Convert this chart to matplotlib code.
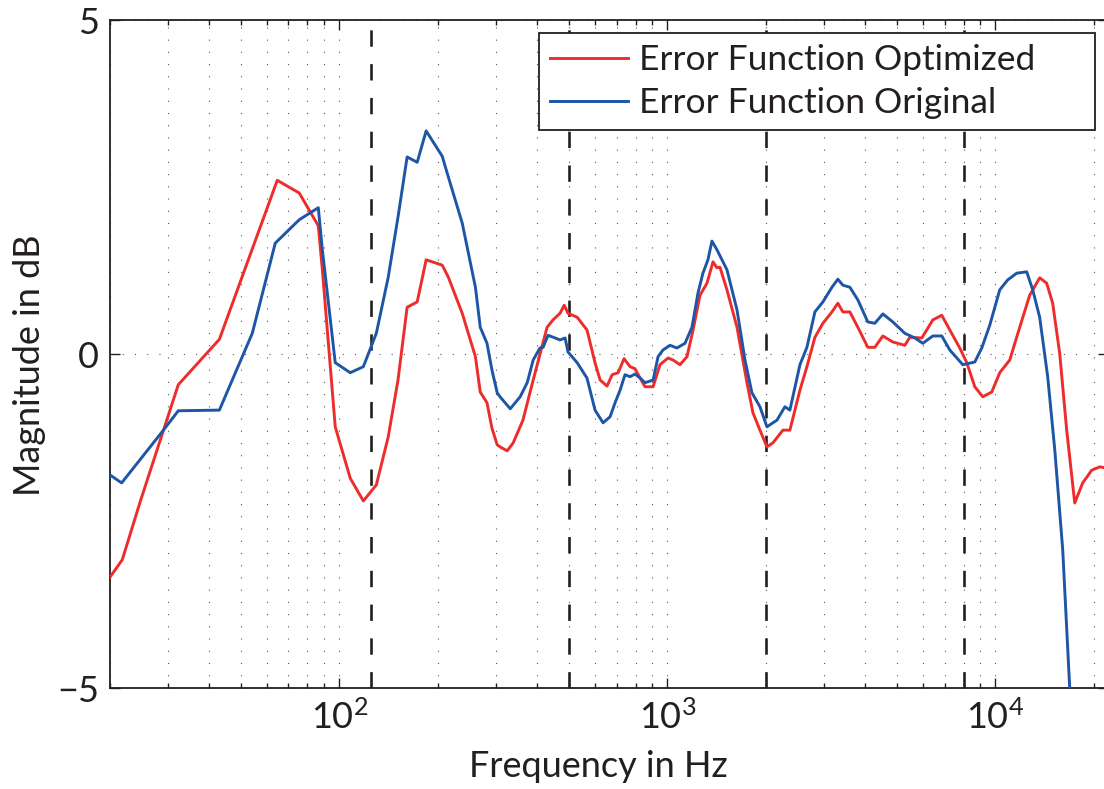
import numpy as np
import matplotlib
matplotlib.use("Agg")
import matplotlib.pyplot as plt
from matplotlib.ticker import LogLocator, NullFormatter, FixedLocator

# frequency (Hz) / magnitude (dB)
freq_opt = [20, 21.8, 24.8, 32.3, 43.1, 64.7, 75.5, 86.3, 88.8, 97.2, 108, 118.4,
            129.7, 141, 151, 161, 172.8, 184, 206, 215, 237, 260, 269, 282, 292,
            303, 309, 325, 339, 363, 390, 430, 448, 471, 485, 498, 531, 569, 602,
            624, 655, 679, 708, 738, 770, 797, 826, 855, 905, 950, 1005, 1041,
            1093, 1148, 1198, 1258, 1321, 1378, 1417, 1447, 1520, 1631, 1749,
            1824, 1916, 2012, 2099, 2251, 2364, 2537, 2664, 2818, 2981, 3176,
            3311, 3429, 3601, 3809, 4085, 4291, 4539, 4869, 5297, 5487, 5968,
            6447, 6866, 7263, 7789, 8183, 8655, 9155, 9750, 10313, 11064, 11866,
            12727, 13650, 14339, 14954, 15709, 16501, 17457, 18462, 19664, 20797,
            22050]
mag_opt = [-3.34, -3.08, -2.19, -0.46, 0.22, 2.60, 2.41, 1.92, 1.26, -1.09, -1.86,
           -2.20, -1.96, -1.24, -0.39, 0.70, 0.78, 1.41, 1.33, 1.15, 0.61, -0.04,
           -0.57, -0.73, -1.11, -1.36, -1.39, -1.45, -1.33, -0.99, -0.39, 0.40,
           0.51, 0.61, 0.73, 0.61, 0.55, 0.36, -0.13, -0.39, -0.48, -0.31, -0.28,
           -0.07, -0.19, -0.22, -0.36, -0.49, -0.49, -0.16, -0.06, -0.09, -0.16,
           -0.04, 0.36, 0.88, 1.06, 1.38, 1.29, 1.30, 0.96, 0.40, -0.43, -0.88,
           -1.14, -1.39, -1.33, -1.14, -1.14, -0.54, -0.19, 0.25, 0.46, 0.63, 0.76,
           0.63, 0.63, 0.40, 0.10, 0.10, 0.27, 0.18, 0.13, 0.25, 0.24, 0.51, 0.58,
           0.36, 0.09, -0.13, -0.49, -0.64, -0.57, -0.28, -0.09, 0.40, 0.88, 1.14,
           1.06, 0.76, 0.01, -1.14, -2.23, -1.93, -1.74, -1.69, -1.71]

freq_orig = [20, 21.7, 29.1, 32.3, 43.1, 54.3, 63.8, 75.5, 86.3, 88.8, 97.2, 108,
             118.4, 129.7, 141, 151, 161, 172.8, 184, 206, 215, 237, 260, 269, 282,
             292, 303, 309, 332, 356, 374, 390, 409, 418, 433, 455, 471, 488, 498,
             531, 569, 602, 637, 669, 693, 718, 743, 770, 797, 826, 855, 905, 937,
             970, 1019, 1070, 1132, 1189, 1240, 1284, 1330, 1368, 1417, 1520, 1631,
             1725, 1811, 1916, 2012, 2159, 2283, 2364, 2537, 2664, 2818, 2981, 3176,
             3311, 3429, 3601, 3809, 4085, 4291, 4539, 4869, 5297, 5683, 6010, 6447,
             6866, 7263, 7956, 8655, 9091, 9614, 10313, 10910, 11621, 12464, 13000,
             13650, 14440, 15180, 16046, 16853, 17700]
mag_orig = [-1.81, -1.93, -1.14, -0.85, -0.84, 0.31, 1.66, 2.01, 2.19, 1.56, -0.13,
            -0.28, -0.19, 0.31, 1.15, 2.05, 2.95, 2.87, 3.34, 2.96, 2.65, 1.96, 1.00,
            0.40, 0.16, -0.24, -0.58, -0.64, -0.82, -0.64, -0.43, -0.09, 0.09, 0.10,
            0.28, 0.24, 0.21, 0.24, 0.03, -0.13, -0.36, -0.84, -1.03, -0.94, -0.73,
            -0.54, -0.31, -0.34, -0.30, -0.36, -0.43, -0.39, -0.04, 0.06, 0.13, 0.09,
            0.16, 0.40, 0.91, 1.21, 1.41, 1.69, 1.56, 1.26, 0.66, -0.09, -0.58, -0.79,
            -1.09, -0.99, -0.79, -0.84, -0.16, 0.10, 0.63, 0.78, 1.00, 1.12, 1.03,
            1.00, 0.81, 0.48, 0.46, 0.60, 0.48, 0.31, 0.24, 0.16, 0.27, 0.27, 0.06,
            -0.16, -0.12, 0.09, 0.43, 0.96, 1.11, 1.21, 1.23, 0.96, 0.55, -0.34,
            -1.44, -2.93, -5.0, -6.6]

band_edges = [125, 500, 2000, 8000]
labels = ["Error Function Optimized", "Error Function Original"]

plt.rcParams['font.family'] = ['Lato', 'DejaVu Sans']
plt.rcParams['mathtext.fontset'] = 'custom'
plt.rcParams['mathtext.rm'] = 'Lato'
plt.rcParams['font.size'] = 26
plt.rcParams['text.color'] = '#231f20'
plt.rcParams['axes.labelcolor'] = '#231f20'
plt.rcParams['xtick.color'] = '#231f20'
plt.rcParams['ytick.color'] = '#231f20'

fig = plt.figure(figsize=(11.04, 7.89), dpi=100)
ax = fig.add_axes([110 / 1104, 1 - 688 / 789, 998 / 1104, 668 / 789])

ax.plot(freq_opt, mag_opt, color='#ee2c2c', lw=2.1, label=labels[0], zorder=3)
ax.plot(freq_orig, mag_orig, color='#1d56a6', lw=2.1, label=labels[1], zorder=3)

for f in band_edges:
    ax.axvline(f, color='#231f20', lw=1.9, dashes=(6.2, 6.6), zorder=2)

ax.set_xscale('log')
ax.set_xlim(20, 22050)
ax.set_ylim(-5, 5)
ax.set_yticks([-5, 0, 5])
ax.xaxis.set_major_locator(FixedLocator([100, 1000, 10000]))
ax.xaxis.set_minor_locator(LogLocator(base=10, subs=np.arange(2, 10), numticks=20))
ax.xaxis.set_minor_formatter(NullFormatter())

ax.grid(True, which='both', axis='x', color='#555555', lw=0.8, linestyle=(0, (1, 10)))
ax.grid(True, which='major', axis='y', color='#555555', lw=0.8, linestyle=(0, (1, 10)))

ax.tick_params(which='both', direction='in', top=True, right=True, width=1.0)
ax.tick_params(which='major', length=7, pad=8)
ax.tick_params(which='minor', length=3.5)
for s in ax.spines.values():
    s.set_linewidth(1.3)
    s.set_color('#231f20')

ax.set_xlabel('Frequency in Hz')
ax.set_ylabel('Magnitude in dB')
ax.xaxis.set_label_coords((598 - 110) / 998, -0.093)
ax.yaxis.set_label_coords(-0.064, (688 - 365) / 668)

# legend box spans x 539..1095 px, top at 33 px
leg = ax.legend(loc='upper left',
                bbox_to_anchor=(539 / 1104, 1 - 33 / 789, (1095 - 539) / 1104, 0),
                bbox_transform=fig.transFigure, mode='expand', borderaxespad=0,
                fancybox=False, framealpha=1, edgecolor='#231f20', handlelength=2.2,
                handletextpad=0.3, borderpad=0.32, labelspacing=0.3, fontsize=25.5)
leg.get_frame().set_linewidth(1.3)

fig.savefig('out.png', dpi=100)
